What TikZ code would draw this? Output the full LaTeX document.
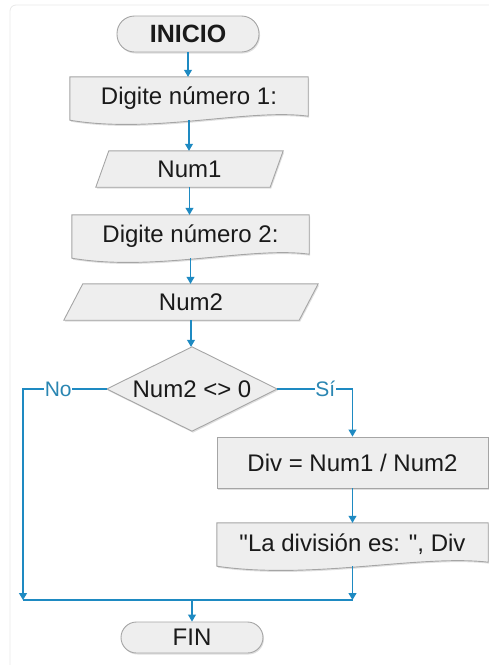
\documentclass[tikz,border=0pt]{standalone}
\usepackage{fontspec}
\setmainfont{Liberation Sans}[Ligatures=TeXOff]
\usetikzlibrary{arrows.meta,shapes.geometric,shadows,calc,backgrounds}
\definecolor{flowblue}{HTML}{1E8AC2}
\definecolor{linkblue}{HTML}{2A86B2}
\definecolor{boxfill}{HTML}{EEEEEE}
\definecolor{boxline}{HTML}{A5A5A5}
\definecolor{txt}{HTML}{1A1A1A}
\newcommand{\docshape}[1]{\path[shp] (#1.north west) -- (#1.north east) -- ($(#1.south east)+(0,-4)$) .. controls ($(#1.south west)!0.75!(#1.south east)+(0,-12)$) and ($(#1.south west)!0.35!(#1.south east)+(0,14)$) .. (#1.south west) -- cycle;}
\newcommand{\paral}[2]{\path[shp] (#1.south west) -- ($(#1.north west)+(#2,0)$) -- (#1.north east) -- ($(#1.south east)-(#2,0)$) -- cycle;}
\newcommand{\rhomb}[1]{\path[shp] (#1.north) -- (#1.east) -- (#1.south) -- (#1.west) -- cycle;}
\begin{document}
\begin{tikzpicture}[x=1pt,y=-1pt,
  every node/.style={font=\fontsize{24}{27}\selectfont, text=txt, inner sep=0pt},
  shp/.style={draw=boxline, fill=boxfill, line width=0.9pt,
    drop shadow={shadow xshift=1pt, shadow yshift=-1.5pt, opacity=0.25}},
  term/.style={shp, minimum width=142pt},
  plain/.style={draw=none},
  arr/.style={draw=flowblue, line width=1.1pt, -{Triangle[width=8pt,length=7pt]}},
  conn/.style={draw=flowblue, line width=1.1pt},
  lab/.style={fill=white, text=linkblue, font=\fontsize{21}{24}\selectfont, inner sep=0.5pt}]
\useasboundingbox (0,0) rectangle (489,665);
\draw[draw=black!9, line width=0.8pt, rounded corners=6pt] (489,5) -- (10,5) -- (10,665);

% nodes
\node[term, minimum height=36pt, rounded corners=17.5pt, font=\bfseries\fontsize{25}{27}\selectfont] (ini) at (188,34) {INICIO};
\node[plain, minimum width=238pt, minimum height=43pt] (d1) at (189,98.5) {Digite número 1:};
\node[plain, minimum width=187pt, minimum height=36pt] (n1) at (189.5,169) {Num1};
\node[plain, minimum width=237pt, minimum height=43pt] (d2) at (190.5,236.5) {Digite número 2:};
\node[plain, minimum width=254pt, minimum height=36pt] (n2) at (191,302) {Num2};
\node[plain, minimum width=170pt, minimum height=84pt] (dia) at (192,389) {Num2 <> 0};
\node[shp, minimum width=271pt, minimum height=51pt] (proc) at (352.5,462.5) {Div = Num1 / Num2};
\node[plain, minimum width=271pt, minimum height=43pt] (d3) at (352.5,544.5) {"La división es: ", Div};
\node[term, minimum height=31pt, rounded corners=15.5pt] (fin) at (192,637.5) {FIN};

\begin{pgfonlayer}{background}
\docshape{d1}
\docshape{d2}
\docshape{d3}
\paral{n1}{13}
\paral{n2}{19}
\rhomb{dia}
\end{pgfonlayer}

\coordinate (cL) at (23,600);
\coordinate (cR) at (d3.south |- cL);
\coordinate (cM) at (fin.north |- cL);

% connectors
\draw[arr] (ini.south) -- (ini.south |- d1.north);
\draw[arr] (d1.south) -- (d1.south |- n1.north);
\draw[arr] (n1.south) -- (n1.south |- d2.north);
\draw[arr] (d2.south) -- (d2.south |- n2.north);
\draw[arr] (n2.south) -- (n2.south |- dia.north);
\draw[arr] (dia.west) -- node[lab, pos=0.58] {No} (cL |- dia.west) -- (cL);
\draw[arr] (dia.east) -- node[lab, pos=0.64] {Sí} (proc.north |- dia.east) -- (proc.north);
\draw[arr] (proc.south) -- (d3.north);
\draw[conn] (cL) -- (cR);
\draw[arr] (d3.south) -- (cR);
\draw[arr] (cM) -- (fin.north);
\end{tikzpicture}
\end{document}
